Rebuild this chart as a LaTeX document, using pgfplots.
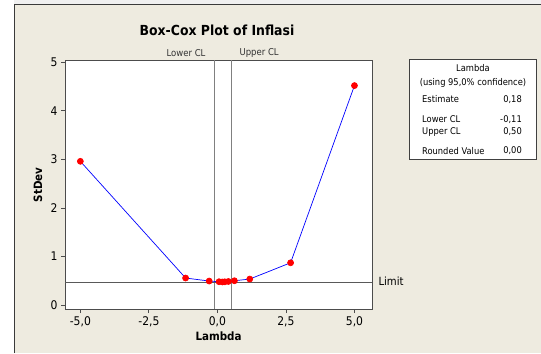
\documentclass[border=0pt]{standalone}
\usepackage{fontspec}
\setmainfont{DejaVu Sans Condensed}
\usepackage{pgfplots}
\pgfplotsset{compat=1.18}
\definecolor{bgc}{HTML}{EEEBE0}
\definecolor{framec}{HTML}{3A3A3A}
\definecolor{clc}{HTML}{808080}
\begin{document}
\begin{tikzpicture}[x=1bp,y=1bp]
\useasboundingbox (0,0) rectangle (541,353);
\fill[gray!12] (0,0) rectangle (541,353);
\fill[white] (0,0) rectangle (14,353);
\fill[bgc] (14,0) rectangle (541,348);
\draw[framec, line width=1.3bp] (14.3,0) -- (14.3,348.3) -- (541,348.3);
\begin{axis}[
  at={(65bp,44bp)}, anchor=south west,
  scale only axis, width=307bp, height=249bp,
  xmin=-5.56, xmax=5.64, ymin=-0.082, ymax=5.047,
  axis background/.style={fill=white},
  axis line style={draw=black!70, line width=0.9bp},
  tick align=outside, tick pos=left,
  major tick length=4bp,
  tick style={black!70, line width=0.8bp},
  xtick={-5,-2.5,0,2.5,5},
  ytick={0,1,2,3,4,5},
  xticklabel style={/pgf/number format/.cd, fixed, fixed zerofill, precision=1, use comma},
  /pgf/number format/assume math mode=true,
  ticklabel style={font=\fontsize{12}{14}\selectfont},
  xlabel={Lambda}, ylabel={StDev},
  x label style={at={(axis description cs:0.5,-0.111)}, anchor=center, font=\fontsize{11.5}{13}\selectfont\bfseries},
  y label style={at={(axis description cs:-0.088,0.498)}, anchor=center, rotate=0, font=\fontsize{11.5}{13}\selectfont\bfseries},
  clip=false,
]
\addplot[clc, line width=1.1bp] coordinates {(-0.11,-0.082) (-0.11,5.047)};
\addplot[clc, line width=1.1bp] coordinates {(0.50,-0.082) (0.50,5.047)};
\addplot[black!65, line width=0.9bp] coordinates {(-5.56,0.46) (5.64,0.46)};
\addplot[blue, line width=0.7bp, mark=*, mark size=3bp, mark options={fill=red, draw=red}] coordinates {
(-5.0,2.96) (-1.16,0.556) (-0.30,0.494) (0.06,0.48) (0.18,0.475) (0.27,0.478) (0.40,0.485) (0.62,0.50) (1.18,0.535) (2.67,0.87) (5.0,4.52)};
\end{axis}
\node[font=\fontsize{13.9}{16}\selectfont\bfseries] at (217,323) {Box-Cox Plot of Inflasi};
\node[font=\fontsize{9.5}{11}\selectfont, anchor=east, text=black!80] at (209,300.3) {Lower CL};
\node[font=\fontsize{9.5}{11}\selectfont, anchor=west, text=black!80] at (236,300.3) {Upper CL};
\node[font=\fontsize{11.3}{13}\selectfont, anchor=west] at (375,71.3) {Limit};
\draw[fill=white, draw=black!75, line width=0.8bp] (409.7,193.7) rectangle (536,293.7);
\begin{scope}[every node/.style={font=\fontsize{9.3}{11}\selectfont, inner sep=0pt}]
\node at (473,285.3) {Lambda};
\node at (473,269.7) {(using 95,0\% confidence)};
\node[anchor=west] at (422,253.7) {Estimate};
\node[anchor=east] at (522,253.7) {0,18};
\node[anchor=west] at (422,233.7) {Lower CL};
\node[anchor=east] at (522,233.7) {-0,11};
\node[anchor=west] at (422,221.3) {Upper CL};
\node[anchor=east] at (522,221.3) {0,50};
\node[anchor=west] at (422,202.3) {Rounded Value};
\node[anchor=east] at (522,202.3) {0,00};
\end{scope}
\end{tikzpicture}
\end{document}
